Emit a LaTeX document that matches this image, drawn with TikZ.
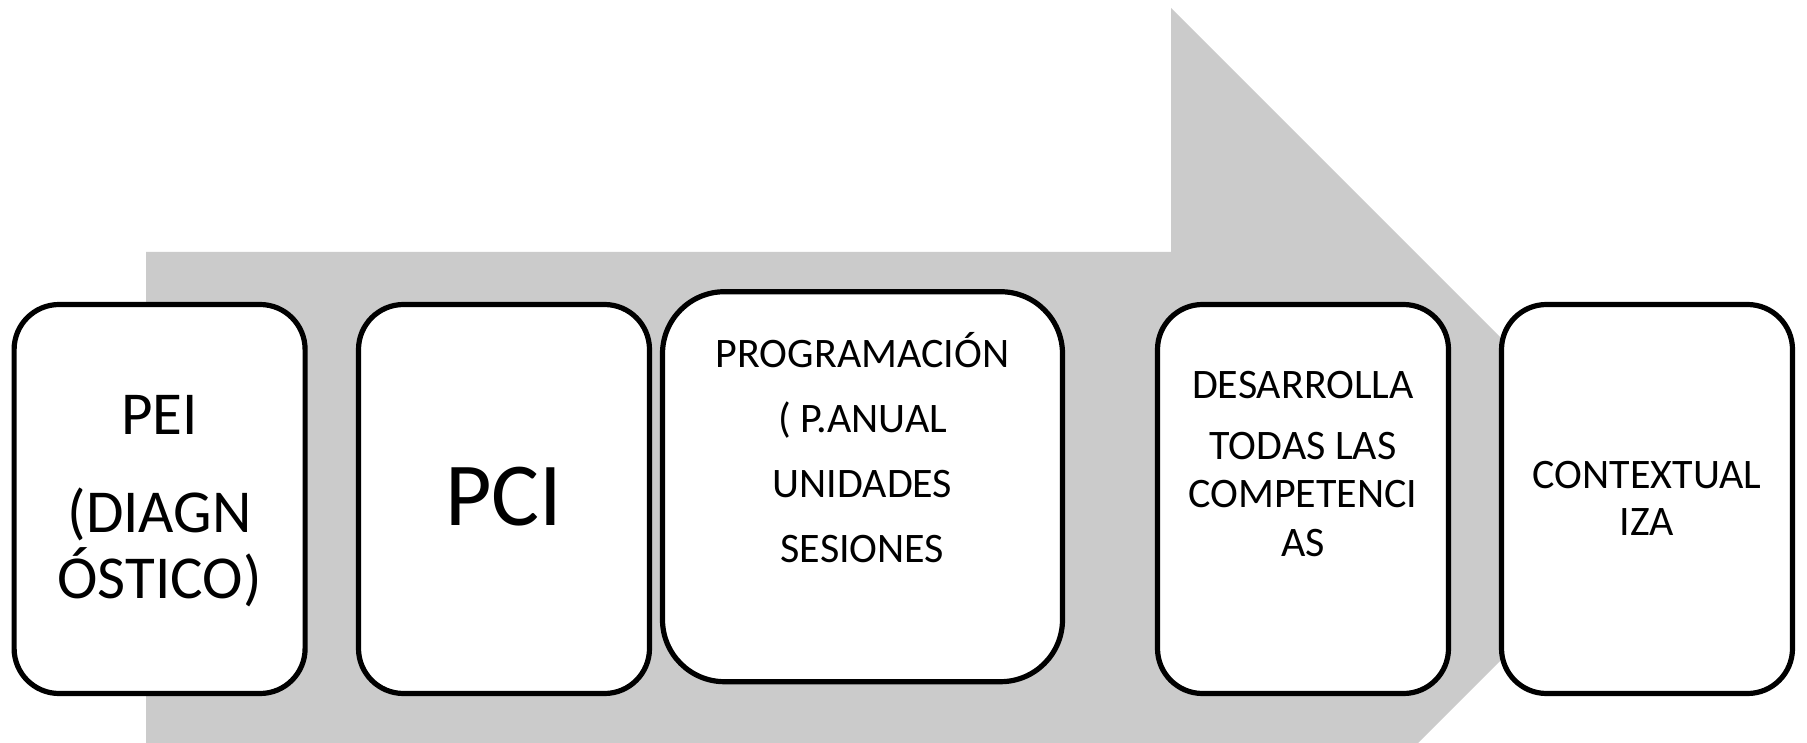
\documentclass[tikz,border=0pt]{standalone}
\usepackage{fontspec}
\setmainfont{Carlito}
\definecolor{arrowgray}{RGB}{203,203,203}
\begin{document}
\begin{tikzpicture}[x=1pt,y=-1pt,
  card/.style={draw=black, line width=5.2pt, fill=white, rounded corners=45pt,
    minimum width=291pt, minimum height=389pt, inner sep=0pt},
  widecard/.style={card, rounded corners=62pt, minimum width=400pt, minimum height=390pt},
  cardtext/.style={anchor=base, align=center, inner sep=0pt, text=black}
]
\useasboundingbox (0,0) rectangle (1807,743);
\fill[arrowgray] (146,252) -- (1171,252) -- (1171,8) -- (1662,499) -- (1418,743) -- (146,743) -- cycle;

\node[card] (pei) at (159.6,499) {};
\node[card] (pci) at (504,499) {};
\node[widecard] (prog) at (862.5,486.7) {};
\node[card] (des) at (1303,499) {};
\node[card] (ctx) at (1647,499) {};

% base anchor = baseline of the last line
\node[cardtext, font=\fontsize{61}{66}\selectfont] (peiT) at (159.6,598) {PEI\\[32pt](DIAGN\\ÓSTICO)};
\node[cardtext, font=\fontsize{90}{100}\selectfont] (pciT) at (504,525) {PCI};
\node[cardtext, font=\fontsize{42}{64.7}\selectfont] (progT) at (862.5,562) {PROGRAMACIÓN\\( P.ANUAL\\UNIDADES\\SESIONES};
\node[cardtext, font=\fontsize{42}{48.5}\selectfont] (desT) at (1303,556) {DESARROLLA\\[12.5pt]TODAS LAS\\COMPETENCI\\AS};
\node[cardtext, font=\fontsize{42}{47.5}\selectfont] (ctxT) at (1647,535.5) {CONTEXTUAL\\IZA};
\end{tikzpicture}
\end{document}
